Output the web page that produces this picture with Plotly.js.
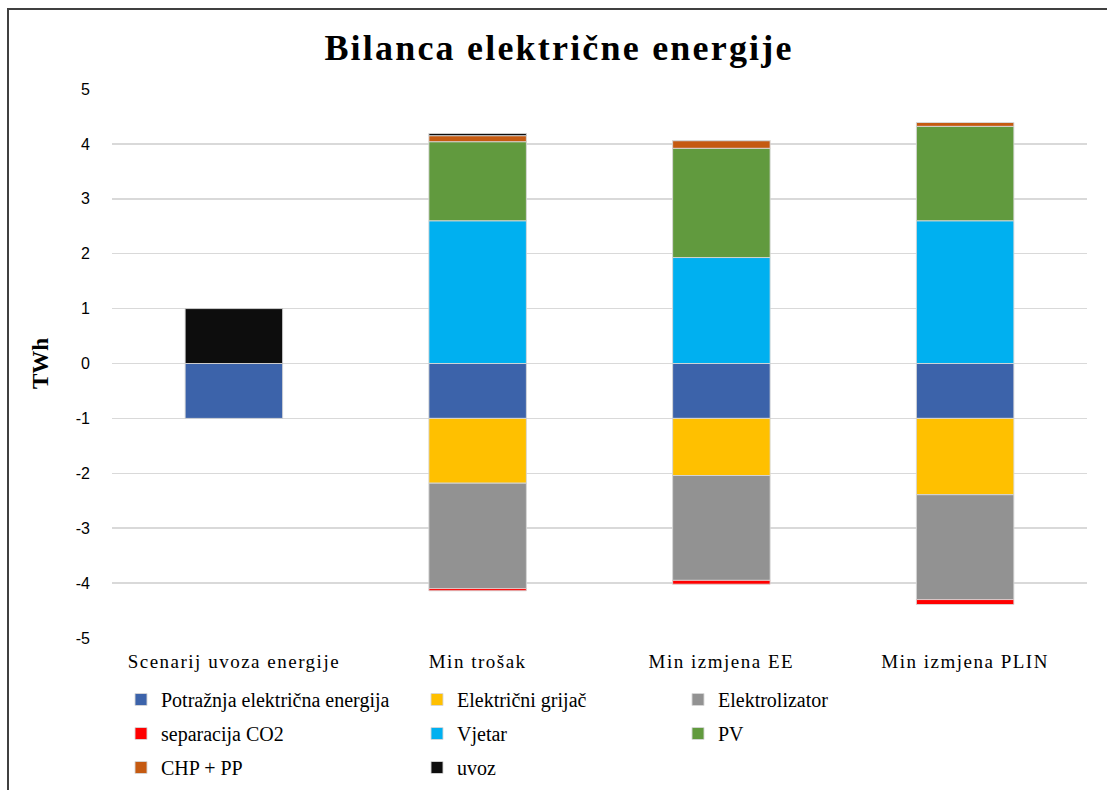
<!DOCTYPE html>
<html>
<head>
<meta charset="utf-8">
<script src="https://cdn.plot.ly/plotly-3.0.1.min.js"></script>
<style>
html,body{margin:0;padding:0;background:#fff;overflow:hidden;}
#chart{width:1107px;height:790px;}
#frame{position:absolute;left:7px;top:8px;width:1200px;height:900px;border-left:2px solid #404040;border-top:2px solid #404040;pointer-events:none;}
#chart .xtick text{letter-spacing:1.5px;}
#chart .gtitle{letter-spacing:2.2px;}
</style>
</head>
<body>
<div id="chart"></div>
<div id="frame"></div>
<script>
const categories = ["Scenarij uvoza energije", "Min trošak", "Min izmjena EE", "Min izmjena PLIN"];
const potraznja = [-1.0, -1.0, -1.0, -1.0];
const grijac = [0, -1.18, -1.04, -1.39];
const elektrolizator = [0, -1.92, -1.91, -1.91];
const separacijaCO2 = [0, -0.04, -0.07, -0.09];
const vjetar = [0, 2.6, 1.93, 2.6];
const pv = [0, 1.44, 1.99, 1.72];
const chp = [0, 0.11, 0.14, 0.07];
const uvoz = [1.0, 0.04, 0, 0];
const yTicks = [-5, -4, -3, -2, -1, 0, 1, 2, 3, 4, 5];

const serif = "Liberation Serif, Times New Roman, serif";
const sans = "Liberation Sans, Arial, sans-serif";
const outline = {color: "rgba(215,215,215,0.9)", width: 1};

function tr(name, y, color, legend, group) {
  return {type: "bar", name: name, x: categories, y: y, legend: legend, legendgroup: group,
    marker: {color: color, line: outline}, hoverinfo: "name+y"};
}

const data = [
  tr("Potražnja električna energija", potraznja, "#3C63AA", "legend", "g1"),
  tr("Električni grijač", grijac, "#FFC000", "legend2", "g2"),
  tr("Elektrolizator", elektrolizator, "#929292", "legend3", "g3"),
  tr("separacija CO2", separacijaCO2, "#FF0000", "legend", "g4"),
  tr("Vjetar", vjetar, "#00B0F0", "legend2", "g5"),
  tr("PV", pv, "#619A3E", "legend3", "g6"),
  tr("CHP + PP", chp, "#C55A11", "legend", "g7"),
  tr("uvoz", uvoz, "#0D0D0D", "legend2", "g8")
];

const plotL = 112, plotR = 1087, plotT = 89, plotB = 638;
const pw = plotR - plotL, ph = plotB - plotT;
function px(x) { return (x - plotL) / pw; }
function py(y) { return (plotB - y) / ph; }

const legBase = {orientation: "v", xanchor: "left", yanchor: "top", bgcolor: "rgba(0,0,0,0)",
  font: {family: serif, size: 20, color: "#000"}, tracegroupgap: 5, itemwidth: 30};

const layout = {
  width: 1107, height: 790,
  paper_bgcolor: "#fff", plot_bgcolor: "#fff",
  margin: {l: plotL, r: 1107 - plotR, t: plotT, b: 790 - plotB, autoexpand: false},
  barmode: "relative", bargap: 0.6,
  title: {text: "<b>Bilanca električne energije</b>", x: 0.505, xanchor: "center", y: 0.94, yanchor: "middle",
    font: {family: serif, size: 36, color: "#000"}},
  xaxis: {tickfont: {family: serif, size: 19, color: "#000"}, showgrid: false, zeroline: false,
    showline: false, ticks: "", ticklabelstandoff: 10},
  yaxis: {range: [-5, 5], tickvals: yTicks, ticktext: yTicks.map(String), showgrid: true, gridcolor: "#d9d9d9", gridwidth: 1.5,
    zeroline: true, zerolinecolor: "#d9d9d9", zerolinewidth: 1.5, showline: false, ticks: "",
    tickfont: {family: sans, size: 16, color: "#000"}, ticklabelstandoff: 21,
    title: {text: "<b>TWh</b>", font: {family: serif, size: 23, color: "#000"}, standoff: 20}},
  legend: Object.assign({}, legBase, {x: px(121), y: py(680)}),
  legend2: Object.assign({}, legBase, {x: px(417), y: py(680)}),
  legend3: Object.assign({}, legBase, {x: px(678), y: py(680)}),
  showlegend: true
};

Plotly.newPlot("chart", data, layout, {displayModeBar: false, staticPlot: true});
</script>
</body>
</html>
